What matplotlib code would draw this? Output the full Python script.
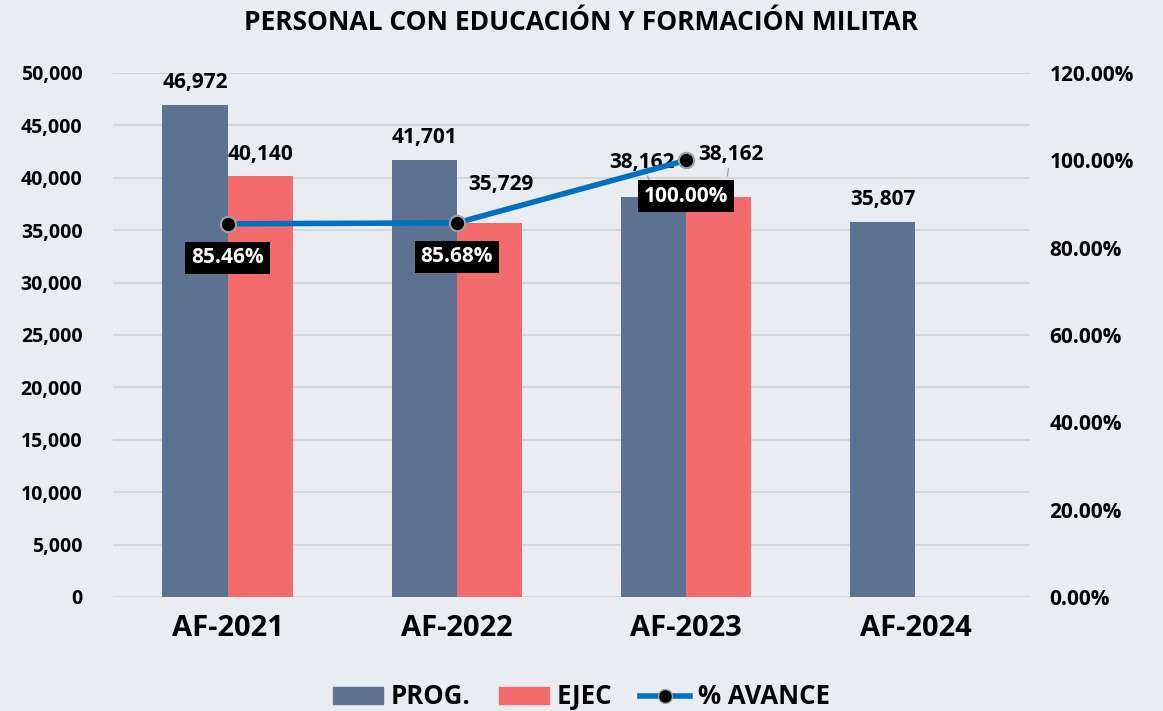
import matplotlib
matplotlib.use("Agg")
import matplotlib.pyplot as plt
import numpy as np
from matplotlib.lines import Line2D
from matplotlib.patches import Patch

categories = ["AF-2021", "AF-2022", "AF-2023", "AF-2024"]
prog = [46972, 41701, 38162, 35807]
ejec = [40140, 35729, 38162, None]
avance = [0.8546, 0.8568, 1.0]
title = "PERSONAL CON EDUCACIÓN Y FORMACIÓN MILITAR"

plt.rcParams['font.family'] = ['Open Sans', 'DejaVu Sans']
plt.rcParams['font.weight'] = 'bold'

bg = "#E9ECF1"
c_prog = "#5D7190"
c_ejec = "#F46B6D"
c_line = "#0070C0"

fig = plt.figure(figsize=(11.63, 7.11), dpi=100, facecolor=bg)
ax = fig.add_axes([113/1163, 1-597/711, (1030-113)/1163, (597-73)/711])
ax.set_facecolor(bg)
x = np.arange(len(categories))
w = 0.285
ax.bar(x - w/2, prog, width=w, color=c_prog, zorder=2)
ej_x = [i + w/2 for i, v in enumerate(ejec) if v is not None]
ej_v = [v for v in ejec if v is not None]
ax.bar(ej_x, ej_v, width=w, color=c_ejec, zorder=2)
ax.set_xlim(-0.5, 3.5)
ax.set_ylim(0, 50000)
ax.set_yticks(np.arange(0, 50001, 5000))
ax.set_yticklabels([f"{v:,}" for v in range(0, 50001, 5000)], fontsize=14, fontweight='bold')
ax.set_xticks(x)
ax.set_xticklabels(categories, fontsize=21, fontweight='bold')
ax.tick_params(axis='x', length=0, pad=12)
ax.tick_params(axis='y', length=0, pad=22)
ax.grid(axis='y', color="#D5D7DB", linewidth=1.5, zorder=0)
for s in ax.spines.values():
    s.set_visible(False)

ax2 = ax.twinx()
ax2.set_ylim(0, 1.2)
ax2.set_yticks(np.arange(0, 1.21, 0.2))
ax2.set_yticklabels([f"{v*100:.2f}%" for v in np.arange(0, 1.21, 0.2)], fontsize=15, fontweight='bold')
ax2.tick_params(axis='y', length=0, pad=14)
for s in ax2.spines.values():
    s.set_visible(False)
ax2.plot(x[:3], avance, color=c_line, linewidth=4, marker='o', markersize=11,
         markerfacecolor='black', markeredgecolor='#A0A0A0', markeredgewidth=1.5, zorder=5)

# bar labels
fs = 15
lbl = dict(fontsize=fs, fontweight='bold', ha='center', va='bottom', color='black')
ax.text(x[0]-w/2, prog[0]+1100, f"{prog[0]:,}", **lbl)
ax.text(x[0]+w/2, ejec[0]+1100, f"{ejec[0]:,}", **lbl)
ax.text(x[1]-w/2, prog[1]+1100, f"{prog[1]:,}", **lbl)
ax.text(x[3]-w/2, prog[3]+1100, f"{prog[3]:,}", **lbl)
# leader-line labels
arrow = dict(arrowstyle='-', color='#A6A6A6', lw=1, shrinkA=11, shrinkB=0)
ax.annotate(f"{ejec[1]:,}", xy=(1.14, 36737), xytext=(1.192, 39408),
            ha='center', va='center', fontsize=fs, fontweight='bold', arrowprops=arrow)
ax.annotate(f"{prog[2]:,}", xy=(1.856, 38900), xytext=(1.808, 41413),
            ha='center', va='center', fontsize=fs, fontweight='bold', arrowprops=arrow)
ax.annotate(f"{ejec[2]:,}", xy=(2.179, 40172), xytext=(2.197, 42176),
            ha='center', va='center', fontsize=fs, fontweight='bold', arrowprops=arrow)

# percentage labels
offs = [-0.078, -0.078, -0.082]
for i, v in enumerate(avance):
    ax2.text(x[i], v + offs[i], f"{v*100:.2f}%", ha='center', va='center', fontsize=fs,
             fontweight='bold', color='white', zorder=6,
             bbox=dict(boxstyle='square,pad=0.28', facecolor='black', edgecolor='none'))

fig.text(0.5, 1-22/711, title, ha='center', va='center', fontsize=19, fontweight='bold')

handles = [Patch(color=c_prog, label='PROG.'), Patch(color=c_ejec, label='EJEC'),
           Line2D([0], [0], color=c_line, lw=4, marker='o', markersize=10,
                  markerfacecolor='black', markeredgecolor='#A0A0A0', label='% AVANCE')]
fig.legend(handles=handles, loc='center', bbox_to_anchor=(0.5, 1-697/711), ncol=3,
           frameon=False, prop={'size': 18.5, 'weight': 'bold'}, handlelength=1.95,
           handleheight=0.6, columnspacing=1.1, handletextpad=0.3,
           borderaxespad=0, borderpad=0)

fig.savefig("out.png", dpi=100, facecolor=bg)
